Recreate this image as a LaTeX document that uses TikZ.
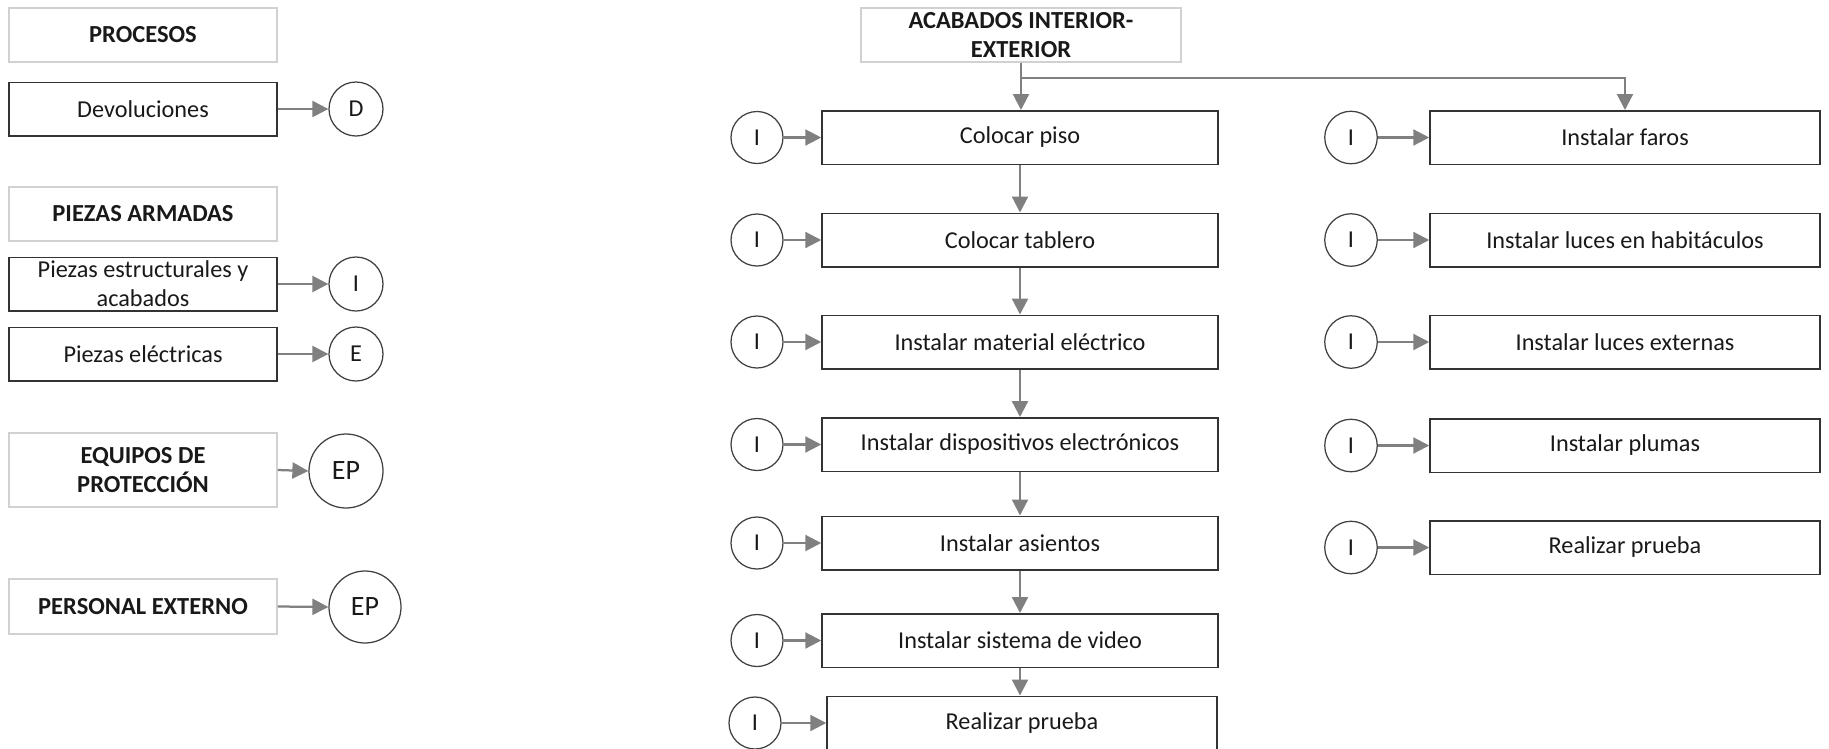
\documentclass[tikz,border=0pt]{standalone}
\usepackage{fontspec}
\setmainfont{Carlito}
\usetikzlibrary{arrows.meta}
\begin{document}
\begin{tikzpicture}[x=0.4pt,y=-0.4pt,
  every node/.style={font=\fontsize{9.7}{11.7}\selectfont, inner sep=0pt, align=center, text=black!90},
  box/.style={draw=black!80, line width=0.6pt, minimum width=#1, minimum height=21.4pt},
  box/.default=158.4pt,
  hbox/.style={draw=black!18, line width=0.6pt, minimum width=#1, minimum height=21.6pt, font=\fontsize{9.8}{11.8}\selectfont\bfseries},
  hbox/.default=107.2pt,
  circ/.style={draw=black!75, line width=0.5pt, circle, minimum size=#1},
  circ/.default=21pt,
  arr/.style={draw=black!50, line width=0.9pt, -{Triangle[length=6.4pt,width=6.4pt]}},
]
\useasboundingbox (0,0) rectangle (1829,748);

% left column
\node[hbox] (proc) at (143,35) {PROCESOS};
\node[box=107.2pt] (dev) at (143,109) {Devoluciones};
\node[circ=21.6pt] (cD) at (356,109) {D};
\node[hbox] (arm) at (143,214) {PIEZAS ARMADAS};
\node[box=107.2pt] (est) at (143,284) {Piezas estructurales y\\acabados};
\node[circ=21.6pt] (cI) at (356,284) {I};
\node[box=107.2pt] (ele) at (143,354) {Piezas eléctricas};
\node[circ=21.6pt] (cE) at (356,354) {E};
\node[hbox, minimum height=29.6pt] (equ) at (143,470) {EQUIPOS DE\\PROTECCIÓN};
\node[circ=29.6pt, font=\fontsize{11.2}{13}\selectfont] (cEP1) at (346,471) {EP};
\node[hbox, minimum height=22pt] (per) at (143,606.5) {PERSONAL EXTERNO};
\node[circ=28.8pt, font=\fontsize{11.2}{13}\selectfont] (cEP2) at (365,607) {EP};

\draw[arr] (dev.east) -- (cD.west);
\draw[arr] (est.east) -- (cI.west);
\draw[arr] (ele.east) -- (cE.west);
\draw[arr] (equ.east) -- (cEP1.west);
\draw[arr] (per.east) -- (cEP2.west);

% middle column
\node[hbox=128pt] (acab) at (1021,35) {ACABADOS INTERIOR-\\EXTERIOR};
\node[box] (a1) at (1020,137.5) {Colocar piso};
\node[box] (a2) at (1020,240) {Colocar tablero};
\node[box] (a3) at (1020,342) {Instalar material eléctrico};
\node[box] (a4) at (1020,444.5) {Instalar dispositivos electrónicos};
\node[box] (a5) at (1020,543) {Instalar asientos};
\node[box] (a6) at (1020,640.5) {Instalar sistema de video};
\node[box=156pt] (a7) at (1022,723) {Realizar prueba};

\node[circ=20.8pt] (ia1) at (757,137.5) {I};
\node[circ=20.8pt] (ia2) at (757,240) {I};
\node[circ=20.8pt] (ia3) at (757,342) {I};
\node[circ=20.8pt] (ia4) at (757,444.5) {I};
\node[circ=20.8pt] (ia5) at (757,543) {I};
\node[circ=20.8pt] (ia6) at (757,640.5) {I};
\node[circ=20.8pt] (ia7) at (755,723) {I};

\foreach \i in {1,...,7} {\draw[arr] (ia\i.east) -- (a\i.west);}
\draw[arr] (acab.south) -- (acab.south |- a1.north);
\draw[arr] (a1.south) -- (a2.north);
\draw[arr] (a2.south) -- (a3.north);
\draw[arr] (a3.south) -- (a4.north);
\draw[arr] (a4.south) -- (a5.north);
\draw[arr] (a5.south) -- (a6.north);
\draw[arr] (a6.south) -- (a6.south |- a7.north);

% right column
\node[box=156pt] (b1) at (1625,137.5) {Instalar faros};
\node[box=156pt] (b2) at (1625,240) {Instalar luces en habitáculos};
\node[box=156pt] (b3) at (1625,342) {Instalar luces externas};
\node[box=156pt] (b4) at (1625,445.5) {Instalar plumas};
\node[box=156pt] (b5) at (1625,547.5) {Realizar prueba};

\node[circ=21pt] (ib1) at (1351,137.5) {I};
\node[circ=21pt] (ib2) at (1351,240) {I};
\node[circ=21pt] (ib3) at (1351,342) {I};
\node[circ=21pt] (ib4) at (1351,445.5) {I};
\node[circ=21pt] (ib5) at (1351,547.5) {I};

\foreach \i in {1,...,5} {\draw[arr] (ib\i.east) -- (b\i.west);}

\coordinate (br) at (1021,78);
\draw[arr] (br) -| (b1.north);
\end{tikzpicture}
\end{document}
